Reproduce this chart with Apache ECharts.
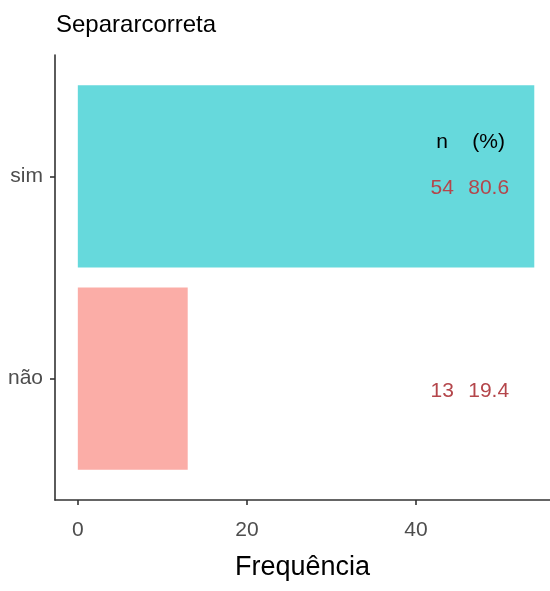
<!DOCTYPE html>
<html><head><meta charset="utf-8">
<script src="https://cdn.jsdelivr.net/npm/echarts@6/dist/echarts.min.js"></script>
<style>html,body{margin:0;padding:0;background:#fff}#c{width:550px;height:591px}</style>
</head><body><div id="c"></div>
<script>
const categories = ['sim', 'não'];
const counts = [54, 13];
const percents = [80.6, 19.4];
const xTicks = [0, 20, 40];
const barColors = ['#66D9DC', '#FBADA7'];

const FONT = '"Liberation Sans", Arial, sans-serif';
const chart = echarts.init(document.getElementById('c'));
const barData = categories.map((c, i) => [i + 1, counts[i]]);
const textData = categories.map((c, i) => [i + 1, counts[i], percents[i]]);

chart.setOption({
  animation: false,
  title: { text: 'Separarcorreta', left: 51, top: 8,
    textStyle: { fontFamily: FONT, fontSize: 24, fontWeight: 'normal', color: '#000' } },
  grid: { left: 55, right: 0, top: 55, bottom: 91, containLabel: false },
  xAxis: {
    type: 'value', min: -2.7, max: 55.86,
    axisLine: { show: true, onZero: false, lineStyle: { color: '#333', width: 1.6 } },
    axisTick: { show: true, length: 5, customValues: xTicks, lineStyle: { color: '#333', width: 1.6 } },
    axisLabel: { customValues: xTicks, margin: 20, fontFamily: FONT, fontSize: 21, color: '#4d4d4d' },
    splitLine: { show: false },
    name: 'Frequência', nameLocation: 'middle', nameGap: 54,
    nameTextStyle: { fontFamily: FONT, fontSize: 27, color: '#000' }
  },
  yAxis: {
    type: 'value', inverse: true, min: 0.4, max: 2.6,
    axisLine: { show: true, onZero: false, lineStyle: { color: '#333', width: 1.6 } },
    axisTick: { show: true, length: 5, customValues: [1, 2], lineStyle: { color: '#333', width: 1.6 } },
    axisLabel: { customValues: [1, 2], margin: 12, fontFamily: FONT, fontSize: 21, color: '#4d4d4d',
      formatter: v => categories[Math.round(v) - 1] || '' },
    splitLine: { show: false }
  },
  series: [
    {
      type: 'custom', data: barData, encode: { x: 1, y: 0 },
      renderItem: function (params, api) {
        const cat = api.value(0), v = api.value(1);
        const p0 = api.coord([0, cat - 0.45]);
        const p1 = api.coord([v, cat + 0.45]);
        return { type: 'rect',
          shape: { x: p0[0], y: Math.min(p0[1], p1[1]), width: p1[0] - p0[0], height: Math.abs(p1[1] - p0[1]) },
          style: { fill: barColors[params.dataIndex] } };
      }
    },
    {
      type: 'custom', data: textData, encode: { x: 1, y: 0 }, z: 5,
      renderItem: function (params, api) {
        const cat = api.value(0);
        const ts = { fontFamily: FONT, fontSize: 21, fill: '#B4464B', align: 'center', verticalAlign: 'middle' };
        const a = api.coord([43.1, cat + 0.06]);
        const b = api.coord([48.6, cat + 0.06]);
        const children = [
          { type: 'text', x: a[0], y: a[1], style: Object.assign({}, ts, { text: String(api.value(1)) }) },
          { type: 'text', x: b[0], y: b[1], style: Object.assign({}, ts, { text: api.value(2).toFixed(1) }) }
        ];
        if (params.dataIndex === 0) {
          const h1 = api.coord([43.1, cat - 0.17]);
          const h2 = api.coord([48.6, cat - 0.17]);
          const hs = Object.assign({}, ts, { fill: '#000' });
          children.push({ type: 'text', x: h1[0], y: h1[1], style: Object.assign({}, hs, { text: 'n' }) });
          children.push({ type: 'text', x: h2[0], y: h2[1], style: Object.assign({}, hs, { text: '(%)' }) });
        }
        return { type: 'group', children: children };
      }
    }
  ]
});
</script></body></html>
